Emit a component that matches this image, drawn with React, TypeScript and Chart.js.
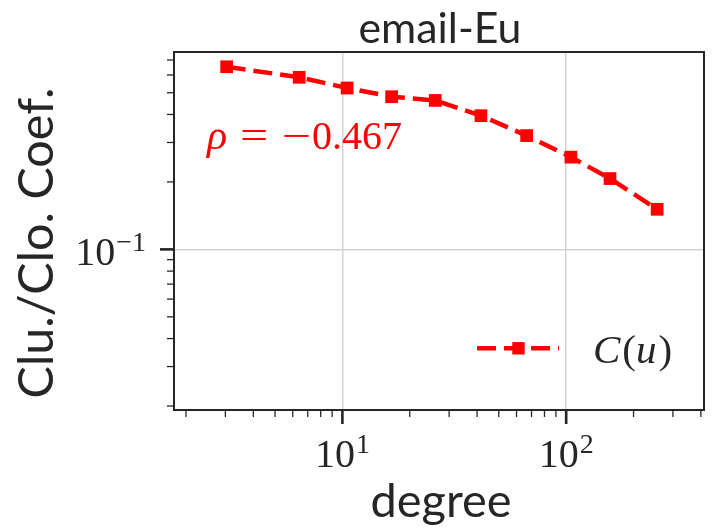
import { useEffect, useRef } from 'react';
import { Chart, registerables } from 'chart.js';

Chart.register(...registerables);

// ---- data ----
const degree = [3.04, 6.41, 10.5, 16.6, 26.0, 41.6, 66.6, 105, 157, 255];
const clustering = [0.653, 0.586, 0.525, 0.48, 0.462, 0.395, 0.322, 0.258, 0.207, 0.151];
const seriesName = 'C(u)';
const chartTitle = 'email-Eu';
const xAxisTitle = 'degree';
const yAxisTitle = 'Clu./Clo. Coef.';
const rhoSign = '−';
const rhoDigits = '0.467';

const xRange = [1.768, 413];
const yRange = [0.0192, 0.76];
const xMajorTicks = [10, 100];
const xMajorExponents = ['1', '2'];
const xMinorTicks = [2, 3, 4, 5, 6, 7, 8, 9, 20, 30, 40, 50, 60, 70, 80, 90, 200, 300, 400];
const yMajorTicks = [0.1];
const yMajorExponents = ['−1'];
const yMinorTicks = [0.02, 0.03, 0.04, 0.05, 0.06, 0.07, 0.08, 0.09, 0.2, 0.3, 0.4, 0.5, 0.6, 0.7];

// ---- styles ----
const RED = '#ff0000';
const AXIS_COLOR = '#262626';
const GRID_COLOR = '#d3d3d3';
const SANS_CANDIDATES = ['Lato', 'Open Sans', 'Noto Sans', 'DejaVu Sans'];
const SERIF_CANDIDATES = ['Liberation Serif', 'DejaVu Serif', 'Noto Serif', 'Tinos', 'Times New Roman', 'FreeSerif'];
const DASH = [19, 8];

function pickFamily(candidates: string[], generic: string): string {
  const c = document.createElement('canvas');
  const ctx = c.getContext('2d')!;
  const sample = 'mmmmwwwwiiiilll0123456789ρ';
  const widthOf = (f: string) => {
    ctx.font = `50px ${f}`;
    return ctx.measureText(sample).width;
  };
  const wMono = widthOf('monospace');
  const wSans = widthOf('sans-serif');
  for (const cand of candidates) {
    const a = widthOf(`"${cand}", monospace`);
    const b = widthOf(`"${cand}", sans-serif`);
    if (a !== wMono || b !== wSans) return `"${cand}", ${generic}`;
  }
  return generic;
}

let SANS = 'Lato, sans-serif';
let SERIF = '"Liberation Serif", serif';

function fitSize(ctx: CanvasRenderingContext2D, text: string, family: string, target: number) {
  ctx.font = `100px ${family}`;
  const w = ctx.measureText(text).width;
  return (100 * target) / w;
}

function drawPower(
  ctx: CanvasRenderingContext2D,
  base: string,
  exp: string,
  anchorX: number,
  align: 'center' | 'right',
  baseline: number
) {
  ctx.textAlign = 'left';
  ctx.textBaseline = 'alphabetic';
  ctx.font = `40px ${SERIF}`;
  const wMain = ctx.measureText(base).width;
  ctx.font = `28px ${SERIF}`;
  const wSup = ctx.measureText(exp).width;
  const total = wMain + 1 + wSup;
  const x0 = align === 'center' ? anchorX - total / 2 : anchorX - total;
  ctx.font = `40px ${SERIF}`;
  ctx.fillText(base, x0, baseline);
  ctx.font = `28px ${SERIF}`;
  ctx.fillText(exp, x0 + wMain + 1, baseline - 14);
}

const overlay = {
  id: 'overlay',
  afterDraw(chart: any) {
    const ctx: CanvasRenderingContext2D = chart.ctx;
    const { left, right, top, bottom } = chart.chartArea;
    const xs = chart.scales.x;
    const ys = chart.scales.y;
    ctx.save();

    const seg = (x1: number, y1: number, x2: number, y2: number, w: number) => {
      ctx.lineWidth = w;
      ctx.beginPath();
      ctx.moveTo(x1, y1);
      ctx.lineTo(x2, y2);
      ctx.stroke();
    };

    // frame
    ctx.strokeStyle = AXIS_COLOR;
    ctx.setLineDash([]);
    ctx.lineWidth = 2;
    ctx.strokeRect(left, top, right - left, bottom - top);

    // ticks
    xMinorTicks.forEach((v) => {
      const px = xs.getPixelForValue(v);
      seg(px, bottom, px, bottom + 7, 1.3);
    });
    xMajorTicks.forEach((v) => {
      const px = xs.getPixelForValue(v);
      seg(px, bottom, px, bottom + 14, 2.6);
    });
    yMinorTicks.forEach((v) => {
      const py = ys.getPixelForValue(v);
      seg(left, py, left - 7, py, 1.3);
    });
    yMajorTicks.forEach((v) => {
      const py = ys.getPixelForValue(v);
      seg(left, py, left - 14, py, 2.6);
    });

    // tick labels
    ctx.fillStyle = AXIS_COLOR;
    xMajorTicks.forEach((v, i) => {
      const px = xs.getPixelForValue(v);
      drawPower(ctx, '10', xMajorExponents[i], px, 'center', bottom + 57);
    });
    yMajorTicks.forEach((v, i) => {
      const py = ys.getPixelForValue(v);
      drawPower(ctx, '10', yMajorExponents[i], left - 28, 'right', py + 16);
    });

    // title
    ctx.textAlign = 'center';
    ctx.textBaseline = 'alphabetic';
    const tSize = fitSize(ctx, chartTitle, SANS, 163);
    ctx.font = `${tSize}px ${SANS}`;
    ctx.fillText(chartTitle, (left + right) / 2 + 1, 43);

    // x axis title
    const xSize = fitSize(ctx, xAxisTitle, SANS, 141);
    ctx.font = `${xSize}px ${SANS}`;
    ctx.fillText(xAxisTitle, (left + right) / 2 + 2, 517);

    // y axis title
    const ySize = fitSize(ctx, yAxisTitle, SANS, 311);
    ctx.save();
    ctx.translate(53, 243);
    ctx.rotate(-Math.PI / 2);
    ctx.font = `${ySize}px ${SANS}`;
    ctx.fillText(yAxisTitle, 0, 0);
    ctx.restore();

    // rho annotation
    ctx.fillStyle = RED;
    ctx.textAlign = 'left';
    ctx.font = `italic 42px ${SERIF}`;
    ctx.fillText('ρ', 207, 149);
    ctx.font = `40px ${SERIF}`;
    ctx.textAlign = 'center';
    ctx.save();
    ctx.translate(254, 149);
    ctx.scale(1.25, 1);
    ctx.fillText('=', 0, 0);
    ctx.restore();
    ctx.save();
    ctx.translate(296.5, 149);
    ctx.scale(1.3, 1);
    ctx.fillText(rhoSign, 0, 0);
    ctx.restore();
    ctx.textAlign = 'left';
    ctx.fillText(rhoDigits, 312, 149);

    // legend
    const ly = 348.3;
    ctx.strokeStyle = RED;
    ctx.lineWidth = 4.5;
    ctx.setLineDash(DASH);
    ctx.beginPath();
    ctx.moveTo(477, ly);
    ctx.lineTo(559, ly);
    ctx.stroke();
    ctx.setLineDash([]);
    ctx.fillStyle = RED;
    ctx.fillRect(518.5 - 6.2, ly - 6.2, 12.4, 12.4);

    ctx.fillStyle = AXIS_COLOR;
    let lx = 593;
    const part = (t: string, italic: boolean) => {
      ctx.font = `${italic ? 'italic ' : ''}41px ${SERIF}`;
      ctx.fillText(t, lx, 363);
      lx += ctx.measureText(t).width + (italic ? 2 : 0);
    };
    part('C', true);
    part('(', false);
    part('u', true);
    part(')', false);

    ctx.restore();
  },
};

export default function App() {
  const ref = useRef<HTMLCanvasElement | null>(null);

  useEffect(() => {
    if (!ref.current) return;
    SANS = pickFamily(SANS_CANDIDATES, 'sans-serif');
    SERIF = pickFamily(SERIF_CANDIDATES, 'serif');
    const chart = new Chart(ref.current, {
      type: 'line',
      data: {
        datasets: [
          {
            label: seriesName,
            data: degree.map((x, i) => ({ x, y: clustering[i] })),
            borderColor: RED,
            backgroundColor: RED,
            borderWidth: 4.5,
            borderDash: DASH,
            pointStyle: 'rect',
            pointRadius: 9,
            pointBorderWidth: 0,
            pointBackgroundColor: RED,
            tension: 0,
            fill: false,
          },
        ],
      },
      options: {
        animation: false,
        responsive: false,
        devicePixelRatio: 1,
        layout: { padding: { left: 174, right: 4, top: 52, bottom: 122 } },
        plugins: { legend: { display: false }, tooltip: { enabled: false }, title: { display: false } },
        scales: {
          x: {
            type: 'logarithmic',
            min: xRange[0],
            max: xRange[1],
            ticks: { display: false },
            grid: { color: GRID_COLOR, lineWidth: 1.5, drawTicks: false },
            border: { display: false },
            afterBuildTicks: (s: any) => {
              s.ticks = xMajorTicks.map((v) => ({ value: v }));
            },
            afterFit: (s: any) => {
              s.height = 0;
            },
          },
          y: {
            type: 'logarithmic',
            min: yRange[0],
            max: yRange[1],
            ticks: { display: false },
            grid: { color: GRID_COLOR, lineWidth: 1.5, drawTicks: false },
            border: { display: false },
            afterBuildTicks: (s: any) => {
              s.ticks = yMajorTicks.map((v) => ({ value: v }));
            },
            afterFit: (s: any) => {
              s.width = 0;
            },
          },
        },
      },
      plugins: [overlay],
    } as any);
    return () => chart.destroy();
  }, []);

  return (
    <div style={{ position: 'fixed', left: 0, top: 0, width: 713, height: 532, background: '#fff' }}>
      <canvas ref={ref} width={713} height={532} style={{ display: 'block' }} />
    </div>
  );
}
